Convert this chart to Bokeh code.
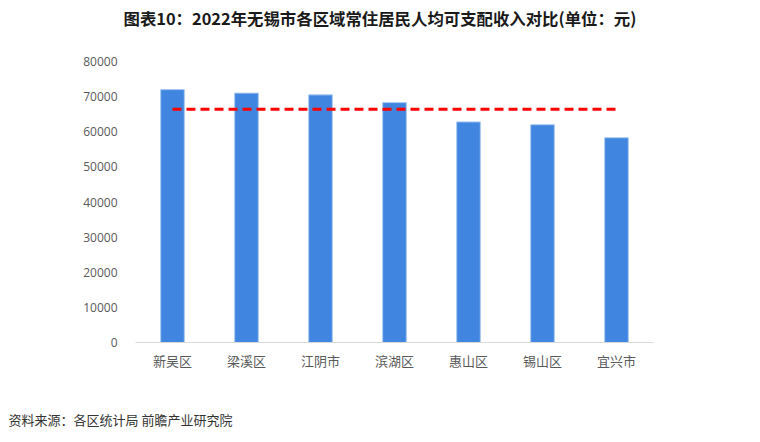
from bokeh.plotting import figure
from bokeh.models import Title, FactorRange, Range1d
from bokeh.embed import file_html
from bokeh.resources import INLINE

categories = ["新吴区", "梁溪区", "江阴市", "滨湖区", "惠山区", "锡山区", "宜兴市"]
income = [72000, 71000, 70500, 68300, 62800, 62000, 58300]
city_avg = 66400
title_text = "图表10：2022年无锡市各区域常住居民人均可支配收入对比(单位：元)"
source_text = "资料来源：各区统计局 前瞻产业研究院"

p = figure(x_range=FactorRange(*categories), y_range=Range1d(0, 80000), title=None,
           width=744, height=429, output_backend="svg", toolbar_location=None,
           min_border_left=135, min_border_right=91, min_border_top=61, min_border_bottom=80)
p.outline_line_color = None
p.xgrid.grid_line_color = None
p.ygrid.grid_line_color = None
p.background_fill_color = "white"

p.vbar(x=categories, top=income, width=0.32, fill_color="#4086E1",
       line_color="#A9C9F3", line_width=1)

p.line(x=[categories[0], categories[-1]], y=[city_avg, city_avg],
       line_color="#FF0000", line_width=3, line_dash="9 5")

p.yaxis.ticker = [0, 10000, 20000, 30000, 40000, 50000, 60000, 70000, 80000]
p.yaxis.axis_line_color = None
p.yaxis.major_tick_line_color = None
p.yaxis.minor_tick_line_color = None
p.yaxis.major_label_text_font = "Open Sans"
p.yaxis.major_label_text_font_size = "12px"
p.yaxis.major_label_text_color = "#595959"
p.yaxis.major_label_standoff = 12

p.xaxis.axis_line_color = "#D9D9D9"
p.xaxis.major_tick_line_color = None
p.xaxis.minor_tick_line_color = None
p.xaxis.major_tick_out = 0
p.xaxis.major_label_text_font = "Noto Sans CJK SC"
p.xaxis.major_label_text_font_size = "13px"
p.xaxis.major_label_text_color = "#595959"
p.xaxis.major_label_standoff = 8

# top: spacer then title
p.add_layout(Title(text=" ", text_font_size="10px", standoff=18), "above")
p.add_layout(Title(text=title_text, text_font="Noto Sans CJK SC", text_font_style="bold",
                   text_font_size="16.4px", text_color="#1A1A1A", align="left",
                   offset=-12, standoff=2), "above")

# bottom: spacer then source
p.add_layout(Title(text=" ", text_font_size="10px", standoff=21), "below")
p.add_layout(Title(text=source_text, text_font="Noto Sans CJK SC", text_font_style="normal",
                   text_font_size="13px", text_color="#333333", align="left",
                   offset=-127, standoff=2), "below")

open("out.html", "w").write(file_html(p, INLINE))
